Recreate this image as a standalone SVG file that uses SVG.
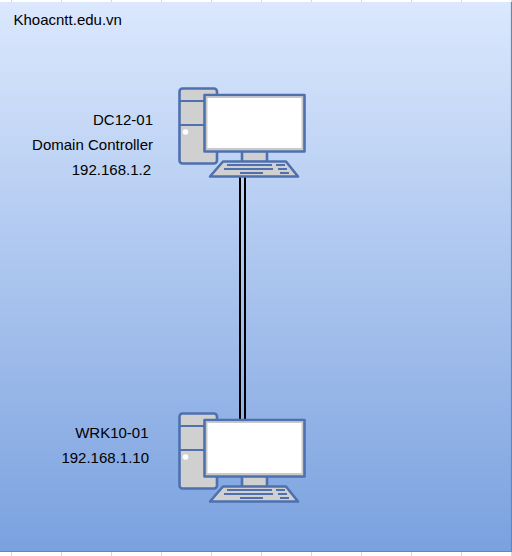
<svg xmlns="http://www.w3.org/2000/svg" width="512" height="556" viewBox="0 0 512 556">
<style>
.t{font-family:"Liberation Sans",Arial,sans-serif;font-size:15px;fill:#000}
.e{text-anchor:end}
.b{fill:#d0d0d0;stroke:#4f70ae;stroke-width:2.600;stroke-linejoin:round}
.k{fill:none;stroke:#4f70ae;stroke-width:2}
.c{fill:none;stroke:#000;stroke-width:2}
</style>
<defs>
<linearGradient id="g" x1="0" y1="0" x2="0" y2="1"><stop offset="0" stop-color="#dbe8fd"/><stop offset="1" stop-color="#7aa1df"/></linearGradient>
<g id="pc">
<rect class="b" x="179.500" y="88.500" width="37.500" height="75" rx="3"/>
<path class="k" d="M180 101H204M180 125H204" stroke-width="2.400"/>
<circle cx="185.500" cy="132" r="2.800" fill="#fff"/>
<rect class="b" x="242" y="151" width="25" height="11"/>
<path class="b" d="M223 161.500H286L298 176.500H210Z"/>
<rect class="b" x="204.500" y="95" width="100" height="56.500"/>
<rect x="206" y="96.500" width="97" height="53.500" fill="#c9c9c9"/>
<rect x="207.500" y="98" width="94" height="50" fill="#fff"/>
<path class="k" d="M227 165H272M276 165H285M224 169H273M278 169H287M240 173H263M280 173H289"/>
</g>
</defs>
<rect width="512" height="556" fill="#fff"/>
<g stroke="#d8d8d8" stroke-width="1">
<path d="M11.500 0V3M61.500 0V3M111.500 0V3M161.500 0V3M211.500 0V3M261.500 0V3M311.500 0V3M361.500 0V3M411.500 0V3M461.500 0V3M511.500 0V3M11.500 552V556M61.500 552V556M111.500 552V556M161.500 552V556M211.500 552V556M261.500 552V556M311.500 552V556M361.500 552V556M411.500 552V556M461.500 552V556M511.500 552V556"/>
</g>
<rect x="0" y="2" width="511" height="550" fill="url(#g)"/>
<path d="M0 551.500H511.500V2" fill="none" stroke="#5f86c6" stroke-width="1.200"/>
<g id="connectors"><path class="c" d="M240 176V420M245 176V420"/></g>
<g id="node-dc"><use href="#pc"/>
<text class="t e" x="153" y="125">DC12-01</text>
<text class="t e" x="153" y="150">Domain Controller</text>
<text class="t e" x="151" y="175">192.168.1.2</text>
</g>
<g id="node-wrk"><use href="#pc" y="325"/>
<text class="t e" x="148.500" y="438">WRK10-01</text>
<text class="t e" x="149" y="463">192.168.1.10</text>
</g>
<text class="t" x="13.500" y="25">Khoacntt.edu.vn</text>
</svg>
